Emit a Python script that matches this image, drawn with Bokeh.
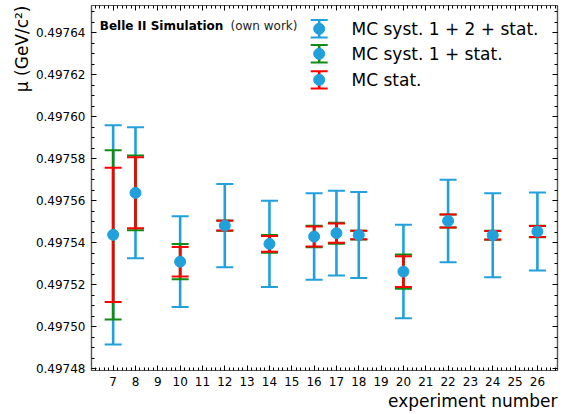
import numpy as np
from bokeh.plotting import figure
from bokeh.models import (ColumnDataSource, FixedTicker, PrintfTickFormatter,
                          LinearAxis, Range1d, Title)
from bokeh.core.properties import value
from bokeh.embed import file_html
from bokeh.resources import INLINE

# ---------------- data ----------------
experiments = [7, 8, 10, 12, 14, 16, 17, 18, 20, 22, 24, 26]
mu = [0.4975438, 0.4975638, 0.4975310, 0.4975482, 0.4975395, 0.4975430,
      0.4975446, 0.4975437, 0.4975263, 0.4975504, 0.4975436, 0.4975454]
# half-widths of the error bars (GeV/c^2)
err_total = [5.22e-5, 3.12e-5, 2.16e-5, 1.985e-5, 2.05e-5, 2.06e-5,
             2.015e-5, 2.05e-5, 2.225e-5, 1.96e-5, 2.00e-5, 1.86e-5]   # MC syst. 1 + 2 + stat.
err_syst1 = [4.03e-5, 1.78e-5, 0.84e-5, 0.24e-5, 0.42e-5, 0.515e-5,
             0.50e-5, 0.21e-5, 0.815e-5, 0.31e-5, 0.22e-5, 0.27e-5]    # MC syst. 1 + stat.
err_stat = [3.20e-5, 1.69e-5, 0.70e-5, 0.235e-5, 0.38e-5, 0.48e-5,
            0.46e-5, 0.205e-5, 0.73e-5, 0.305e-5, 0.205e-5, 0.26e-5]    # MC stat.
series_labels = ["MC syst. 1 + 2 + stat.", "MC syst. 1 + stat.", "MC stat."]
x_ticks = [7, 8, 9, 10, 11, 12, 13, 14, 15, 16, 17, 18, 19, 20, 21, 22, 23, 24, 25, 26]
y_ticks = [0.49748, 0.49750, 0.49752, 0.49754, 0.49756, 0.49758, 0.49760, 0.49762, 0.49764]
x_label = "experiment number"
y_label = "μ (GeV/c²)"

# ---------------- styles / layout ----------------
BLUE, GREEN, RED = "#21a0dc", "#138a13", "#ff0000"
FONT = "DejaVu Sans"
X_RANGE = (6.03, 26.9)
Y_RANGE = (0.4974792, 0.497653)

p = figure(width=566, height=414, output_backend="svg", toolbar_location=None,
           x_range=Range1d(*X_RANGE), y_range=Range1d(*Y_RANGE),
           min_border_left=91, min_border_right=9, min_border_top=5, min_border_bottom=44)
p.grid.visible = False
p.background_fill_color = "white"
p.border_fill_color = "white"
p.outline_line_color = "#555555"
p.outline_line_width = 1.2

xticker = FixedTicker(ticks=x_ticks,
                      minor_ticks=list(np.round(np.arange(6.0, 27.0001, 0.2), 3)))
yticker = FixedTicker(ticks=y_ticks,
                      minor_ticks=list(np.round(np.arange(0.49747, 0.49767, 0.000005), 7)))


def style_axis(ax, labels=True):
    ax.major_tick_in = 5
    ax.major_tick_out = 0
    ax.minor_tick_in = 3
    ax.minor_tick_out = 0
    ax.major_tick_line_color = "black"
    ax.minor_tick_line_color = "black"
    ax.axis_line_color = "#555555"
    ax.axis_line_width = 1.2
    if labels:
        ax.major_label_text_font = FONT
        ax.major_label_text_font_size = "12px"
        ax.major_label_text_color = "black"
        ax.major_label_standoff = 6
    else:
        ax.major_label_text_font_size = "0px"
        ax.major_label_text_color = None
        ax.major_label_standoff = 0


xa = p.xaxis[0]
xa.ticker = xticker
xa.formatter = PrintfTickFormatter(format="%d")
style_axis(xa)

ya = p.yaxis[0]
ya.ticker = yticker
ya.formatter = PrintfTickFormatter(format="%.5f")
style_axis(ya)

top = LinearAxis(ticker=xticker)
style_axis(top, labels=False)
p.add_layout(top, "above")
right = LinearAxis(ticker=yticker)
style_axis(right, labels=False)
p.add_layout(right, "right")

# axis titles aligned to the far end of each axis (as in the reference)
p.add_layout(Title(text=x_label, align="right", vertical_align="middle",
                   text_font=FONT, text_font_size="17px",
                   text_font_style="normal", text_color="black", standoff=2), "below")
p.add_layout(Title(text=y_label, align="right", vertical_align="middle",
                   text_font=FONT, text_font_size="17px",
                   text_font_style="normal", text_color="black", standoff=-1), "left")

# ---------------- error bars ----------------
mu_arr = np.array(mu)
for err, color in [(err_total, BLUE), (err_syst1, GREEN), (err_stat, RED)]:
    e = np.array(err)
    src = ColumnDataSource(dict(x=experiments, lo=mu_arr - e, hi=mu_arr + e))
    p.segment(x0="x", y0="lo", x1="x", y1="hi", source=src,
              line_color=color, line_width=2.6)
    p.scatter(x="x", y="lo", marker="dash", size=17, line_color=color,
              line_width=2, source=src)
    p.scatter(x="x", y="hi", marker="dash", size=17, line_color=color,
              line_width=2, source=src)

p.scatter(x=experiments, y=mu, marker="circle", size=11,
          fill_color=BLUE, line_color=BLUE)


# ---------------- legend & label (placed in axes fractions) ----------------
def ax_x(f):
    return X_RANGE[0] + f * (X_RANGE[1] - X_RANGE[0])


def ax_y(f):
    return Y_RANGE[0] + f * (Y_RANGE[1] - Y_RANGE[0])


key_fx = 0.4886
text_fx = 0.558
row_fy = [0.9362, 0.8677, 0.7964]
half_fy = 0.0238
for fy, color, lab in zip(row_fy, [BLUE, GREEN, RED], series_labels):
    kx, ky = ax_x(key_fx), ax_y(fy)
    lo, hi = ax_y(fy - half_fy), ax_y(fy + half_fy)
    p.segment(x0=[kx], y0=[lo], x1=[kx], y1=[hi], line_color=color, line_width=2.6)
    p.scatter(x=[kx, kx], y=[lo, hi], marker="dash", size=17, line_color=color, line_width=2)
    p.scatter(x=[kx], y=[ky], marker="circle", size=11, fill_color=BLUE, line_color=BLUE)
    p.text(x=[ax_x(text_fx)], y=[ky], text=[lab], text_font=value(FONT),
           text_font_size="17px", text_baseline="middle", text_align="left",
           text_color="black")

p.text(x=[ax_x(0.0178)], y=[ax_y(0.9438)], text=["Belle II Simulation"],
       text_font=value(FONT), text_font_size="12px", text_font_style="bold",
       text_baseline="middle", text_color="black")
p.text(x=[ax_x(0.2983)], y=[ax_y(0.9438)], text=["(own work)"],
       text_font=value(FONT), text_font_size="12px",
       text_baseline="middle", text_color="#222222")

open("out.html", "w").write(file_html(p, INLINE))
